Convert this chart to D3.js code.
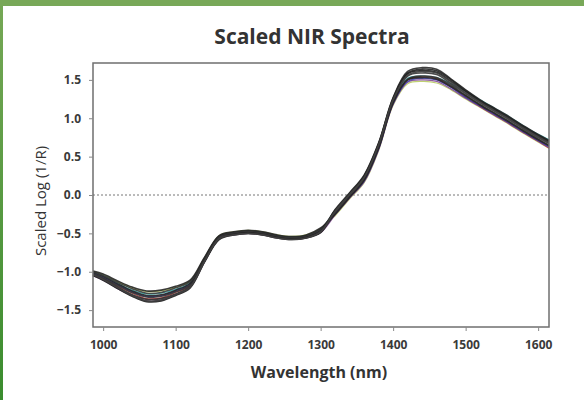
<!DOCTYPE html>
<html>
<head>
<meta charset="utf-8">
<script src="https://cdn.jsdelivr.net/npm/d3@7"></script>
<style>
  html, body { margin: 0; padding: 0; background: #fff; }
  svg { display: block; }
</style>
</head>
<body>
<div id="chart"></div>
<script>
// ---- data ----
const wavelengths = [986, 1000, 1020, 1040, 1060, 1080, 1100, 1120, 1140, 1160, 1180, 1200, 1220, 1240, 1260, 1280, 1300,
  1320, 1340, 1360, 1380, 1400, 1420, 1440, 1460, 1480, 1500, 1520, 1540, 1560, 1580, 1600, 1615];

const spectrumA = [-1.05,-1.11,-1.22,-1.32,-1.39,-1.38,-1.31,-1.21,-0.87,-0.58,-0.52,-0.50,-0.52,-0.56,-0.58,-0.56,-0.49,
  -0.21,0.01,0.24,0.66,1.25,1.58,1.62,1.60,1.48,1.35,1.22,1.11,1.00,0.88,0.77,0.69];
const spectrumB = [-1.04,-1.09,-1.20,-1.30,-1.36,-1.35,-1.29,-1.19,-0.86,-0.57,-0.51,-0.49,-0.51,-0.55,-0.57,-0.55,-0.48,
  -0.19,0.03,0.26,0.68,1.27,1.61,1.66,1.64,1.51,1.37,1.24,1.13,1.02,0.90,0.79,0.71];
const spectrumC = [-1.03,-1.08,-1.18,-1.27,-1.33,-1.32,-1.26,-1.17,-0.85,-0.56,-0.50,-0.48,-0.50,-0.54,-0.56,-0.54,-0.47,
  -0.24,-0.02,0.20,0.62,1.21,1.51,1.55,1.53,1.43,1.30,1.18,1.07,0.96,0.84,0.73,0.65];
const spectrumD = [-1.01,-1.06,-1.16,-1.25,-1.31,-1.30,-1.24,-1.15,-0.83,-0.54,-0.50,-0.48,-0.50,-0.54,-0.56,-0.54,-0.45,
  -0.20,0.02,0.25,0.67,1.26,1.59,1.64,1.62,1.50,1.36,1.23,1.12,1.01,0.89,0.78,0.70];
const spectrumE = [-1.00,-1.05,-1.14,-1.22,-1.28,-1.27,-1.21,-1.13,-0.82,-0.54,-0.49,-0.47,-0.49,-0.53,-0.55,-0.53,-0.44,
  -0.22,0.00,0.22,0.64,1.23,1.55,1.59,1.57,1.45,1.32,1.20,1.09,0.98,0.86,0.75,0.67];
const spectrumF = [-0.99,-1.03,-1.12,-1.20,-1.25,-1.24,-1.19,-1.11,-0.81,-0.53,-0.48,-0.46,-0.48,-0.52,-0.54,-0.52,-0.43,
  -0.25,-0.03,0.19,0.61,1.20,1.50,1.53,1.51,1.41,1.29,1.17,1.06,0.95,0.83,0.72,0.64];
const spectrumG = [-1.04,-1.10,-1.21,-1.31,-1.38,-1.37,-1.30,-1.20,-0.86,-0.57,-0.52,-0.50,-0.52,-0.56,-0.58,-0.56,-0.48,
  -0.21,0.01,0.23,0.65,1.24,1.56,1.61,1.59,1.47,1.33,1.21,1.10,0.99,0.87,0.76,0.68];
const spectrumH = [-1.02,-1.07,-1.17,-1.26,-1.32,-1.31,-1.25,-1.16,-0.84,-0.55,-0.50,-0.48,-0.50,-0.54,-0.56,-0.54,-0.46,
  -0.25,-0.03,0.18,0.60,1.19,1.48,1.52,1.50,1.40,1.27,1.16,1.05,0.94,0.82,0.71,0.63];
const spectrumI = [-1.05,-1.11,-1.22,-1.31,-1.38,-1.37,-1.30,-1.20,-0.87,-0.57,-0.52,-0.50,-0.52,-0.56,-0.58,-0.56,-0.49,
  -0.26,-0.04,0.17,0.59,1.18,1.47,1.50,1.48,1.38,1.26,1.15,1.04,0.93,0.81,0.70,0.62];
const spectrumJ = [-1.00,-1.04,-1.13,-1.21,-1.26,-1.25,-1.20,-1.12,-0.82,-0.53,-0.48,-0.46,-0.48,-0.52,-0.54,-0.52,-0.44,
  -0.27,-0.05,0.16,0.58,1.17,1.45,1.48,1.46,1.37,1.25,1.14,1.03,0.92,0.80,0.69,0.61];
const spectrumK = [-1.01,-1.05,-1.15,-1.24,-1.29,-1.28,-1.23,-1.14,-0.83,-0.54,-0.49,-0.47,-0.49,-0.53,-0.55,-0.53,-0.45,
  -0.20,0.02,0.24,0.65,1.23,1.52,1.55,1.53,1.45,1.35,1.24,1.13,1.02,0.90,0.79,0.72];
const spectrumL = [-1.03,-1.09,-1.19,-1.28,-1.35,-1.34,-1.27,-1.18,-0.85,-0.56,-0.51,-0.49,-0.51,-0.55,-0.57,-0.55,-0.47,
  -0.25,-0.03,0.19,0.61,1.20,1.50,1.54,1.52,1.41,1.27,1.15,1.04,0.93,0.81,0.70,0.61];

const darkSeries = [spectrumA, spectrumB, spectrumC, spectrumD, spectrumE, spectrumF, spectrumG];
const darkColors = ["#1b1b1b", "#2a2a2a", "#333333", "#222222", "#3a3a3a", "#262626", "#404040"];
const colorSeries = [spectrumJ, spectrumK, spectrumL, spectrumI, spectrumH];
const colorColors = ["#b4c85a", "#2aa8a8", "#b83a3a", "#7b3f8c", "#3c3cb4"];

const xTicks = [1000, 1100, 1200, 1300, 1400, 1500, 1600];
const yTicks = [-1.5, -1.0, -0.5, 0.0, 0.5, 1.0, 1.5];
const titleText = "Scaled NIR Spectra";
const xLabel = "Wavelength (nm)";
const yLabel = "Scaled Log (1/R)";

// ---- drawing ----
const W = 584, H = 400;
const svg = d3.select("#chart").append("svg").attr("width", W).attr("height", H);

// green frame
const grad = svg.append("defs").append("linearGradient").attr("id", "lg")
  .attr("x1", 0).attr("y1", 0).attr("x2", 0).attr("y2", 1);
grad.append("stop").attr("offset", "0%").attr("stop-color", "#76a856");
grad.append("stop").attr("offset", "100%").attr("stop-color", "#3a8c2e");
svg.append("rect").attr("x", 0).attr("y", 0).attr("width", 3).attr("height", H).attr("fill", "url(#lg)");
svg.append("rect").attr("x", 0).attr("y", 0).attr("width", W).attr("height", 6).attr("fill", "#78a858");

const plot = { left: 93, top: 63, right: 549, bottom: 327 };
const x = d3.scaleLinear().domain([986, 1615]).range([plot.left, plot.right]);
const y = d3.scaleLinear().domain([-1.72, 1.72]).range([plot.bottom, plot.top]);

// zero dotted line
svg.append("line")
  .attr("x1", plot.left).attr("x2", plot.right)
  .attr("y1", y(0)).attr("y2", y(0))
  .attr("stroke", "#777").attr("stroke-width", 1)
  .attr("stroke-dasharray", "2,2");

const line = d3.line()
  .x((d, i) => x(wavelengths[i]))
  .y(d => y(d))
  .curve(d3.curveCatmullRom.alpha(0.5));

const g = svg.append("g");
g.selectAll("path.col").data(colorSeries).join("path")
  .attr("class", "col")
  .attr("d", d => line(d))
  .attr("fill", "none")
  .attr("stroke", (d, i) => colorColors[i])
  .attr("stroke-width", 1.2)
  .attr("stroke-opacity", 0.85);
g.selectAll("path.dark").data(darkSeries).join("path")
  .attr("class", "dark")
  .attr("d", d => line(d))
  .attr("fill", "none")
  .attr("stroke", (d, i) => darkColors[i])
  .attr("stroke-width", 1.6)
  .attr("stroke-opacity", 0.9);

// frame
svg.append("rect")
  .attr("x", plot.left).attr("y", plot.top)
  .attr("width", plot.right - plot.left).attr("height", plot.bottom - plot.top)
  .attr("fill", "none").attr("stroke", "#6f6f6f").attr("stroke-width", 1.5);

// axes
const xAxis = svg.append("g").attr("transform", `translate(0,${plot.bottom})`)
  .call(d3.axisBottom(x).tickValues(xTicks).tickSize(4).tickPadding(9).tickFormat(d3.format("d")));
const yAxis = svg.append("g").attr("transform", `translate(${plot.left},0)`)
  .call(d3.axisLeft(y).tickValues(yTicks).tickSize(4).tickPadding(8).tickFormat(d3.format(".1f")));
[xAxis, yAxis].forEach(ax => {
  ax.select(".domain").remove();
  ax.selectAll(".tick line").attr("stroke", "#888");
  ax.selectAll(".tick text")
    .attr("fill", "#3a3a3a")
    .style("font-family", "'Open Sans', sans-serif")
    .style("font-weight", "700")
    .style("font-size", "12px");
});

// title & labels
svg.append("text").attr("x", 312).attr("y", 44)
  .attr("text-anchor", "middle")
  .style("font-family", "'Open Sans', sans-serif").style("font-weight", "700").style("font-size", "21px")
  .attr("fill", "#333").text(titleText);
svg.append("text").attr("x", 319).attr("y", 378)
  .attr("text-anchor", "middle")
  .style("font-family", "'Open Sans', sans-serif").style("font-weight", "700").style("font-size", "16px")
  .attr("fill", "#333").text(xLabel);
svg.append("text")
  .attr("transform", "translate(46,201) rotate(-90)")
  .attr("text-anchor", "middle")
  .style("font-family", "'Open Sans', sans-serif").style("font-weight", "400").style("font-size", "15px")
  .attr("fill", "#333").text(yLabel);
</script>
</body>
</html>
